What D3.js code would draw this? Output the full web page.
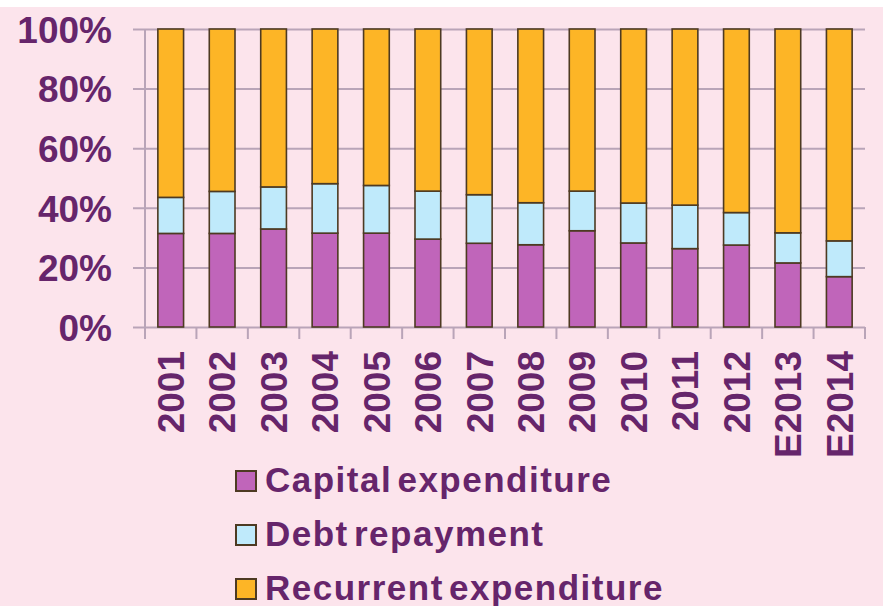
<!DOCTYPE html>
<html>
<head>
<meta charset="utf-8">
<script src="https://cdn.jsdelivr.net/npm/d3@7"></script>
<style>
  body { margin: 0; background: #fff; }
  text { font-family: "Liberation Sans", Arial, sans-serif; font-weight: bold; fill: #66256b; }
</style>
</head>
<body>
<script>
// Constant
const w = 883;
const h = 606;

// Data (percent shares)
const years = ['2001', '2002', '2003', '2004', '2005', '2006', '2007', '2008', '2009', '2010', '2011', '2012', 'E2013', 'E2014'];
const capital = [31.4, 31.4, 32.9, 31.5, 31.5, 29.5, 28.1, 27.6, 32.3, 28.2, 26.3, 27.5, 21.5, 16.9];
const debt = [12.1, 14.1, 14.1, 16.6, 16.0, 16.1, 16.3, 14.1, 13.3, 13.4, 14.6, 10.9, 10.1, 12.0];
const recurrent = [56.5, 54.5, 53.0, 51.9, 52.5, 54.4, 55.6, 58.3, 54.4, 58.4, 59.1, 61.6, 68.4, 71.1];
const seriesNames = ['Capital expenditure', 'Debt repayment', 'Recurrent expenditure'];
const seriesColors = ['#c065ba', '#bfeafb', '#fdb526'];
const yTicks = [0, 20, 40, 60, 80, 100];

// Create the svg canvas
var svg = d3.select('body')
  .append('svg')
  .attr('width', w)
  .attr('height', h);

// pink background, white strip on top
svg.append('rect')
  .attr('x', 0).attr('y', 7)
  .attr('width', w).attr('height', h - 7)
  .attr('fill', '#fce4ec');

// Scales
var x = d3.scaleBand().domain(years).range([145, 865]).paddingInner(0.5).paddingOuter(0.25);
var y = d3.scaleLinear().domain([0, 100]).range([327, 29]);

// table for the stack
var table = years.map((d, i) => ({ year: d, c: capital[i], d: debt[i], r: recurrent[i] }));
var stacked = d3.stack().keys(['c', 'd', 'r'])(table);

// gridlines + y axis
var yAxis = svg.append('g')
  .attr('transform', 'translate(145,0)')
  .call(d3.axisLeft(y).tickValues(yTicks).tickSize(-720).tickSizeOuter(0).tickPadding(33).tickFormat(d => d + '%'));
yAxis.select('.domain').remove();
yAxis.selectAll('line')
  .attr('x1', -12)
  .attr('stroke', '#b9a4b8')
  .attr('stroke-width', 2);
yAxis.selectAll('text')
  .style('font-size', '37px')
  .style('font-family', '"Liberation Sans", Arial, sans-serif')
  .style('font-weight', 'bold')
  .attr('fill', '#66256b')
  .attr('dy', '0.36em');

// vertical axis line
svg.append('line')
  .attr('x1', 145).attr('x2', 145)
  .attr('y1', 29).attr('y2', 339)
  .attr('stroke', '#b9a4b8')
  .attr('stroke-width', 2);

// x axis tick marks between categories
var xTicks = years.map(d => x(d) - x.step() * 0.25).concat([865]);
svg.selectAll('line.xtick')
  .data(xTicks)
  .enter()
  .append('line')
  .attr('class', 'xtick')
  .attr('x1', d => d).attr('x2', d => d)
  .attr('y1', 327).attr('y2', 339)
  .attr('stroke', '#b9a4b8')
  .attr('stroke-width', 2);

// bars
svg.selectAll('g.series')
  .data(stacked)
  .enter()
  .append('g')
  .attr('class', 'series')
  .attr('fill', (d, i) => seriesColors[i])
  .selectAll('rect')
  .data(d => d)
  .enter()
  .append('rect')
  .attr('x', d => x(d.data.year))
  .attr('y', d => y(d[1]))
  .attr('width', x.bandwidth())
  .attr('height', d => y(d[0]) - y(d[1]))
  .attr('stroke', '#4d3a22')
  .attr('stroke-width', 1.6);

// x labels, rotated
svg.selectAll('text.xlab')
  .data(years)
  .enter()
  .append('text')
  .attr('class', 'xlab')
  .attr('transform', d => 'translate(' + (x(d) + x.bandwidth() / 2) + ',351) rotate(-90)')
  .attr('text-anchor', 'end')
  .attr('dy', '0.36em')
  .style('font-size', '37px')
  .text(d => d);

// legend
var legend = svg.selectAll('g.legend')
  .data(seriesNames)
  .enter()
  .append('g')
  .attr('class', 'legend')
  .attr('transform', (d, i) => 'translate(235,' + (492 + i * 54) + ')');

legend.append('rect')
  .attr('x', 1).attr('y', -21)
  .attr('width', 20).attr('height', 20)
  .attr('fill', (d, i) => seriesColors[i])
  .attr('stroke', '#4d3a22')
  .attr('stroke-width', 2);

legend.append('text')
  .attr('x', 30)
  .attr('y', 0)
  .style('font-size', '35px')
  .style('letter-spacing', '1.5px')
  .style('word-spacing', '-6px')
  .text(d => d);
</script>
</body>
</html>
